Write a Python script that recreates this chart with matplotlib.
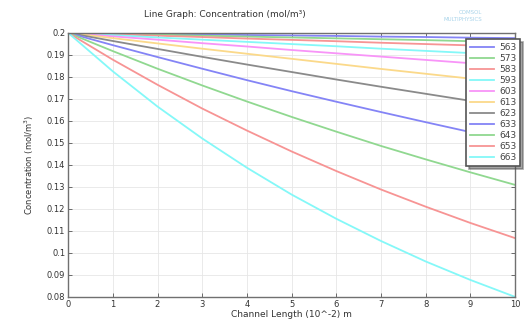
import matplotlib
matplotlib.use("Agg")
import matplotlib.pyplot as plt

# channel length (10^-2 m)
x = [0, 1, 2, 3, 4, 5, 6, 7, 8, 9, 10]

labels = ["563", "573", "583", "593", "603", "613", "623", "633", "643", "653", "663"]

c563 = [0.2, 0.1998, 0.1995, 0.1993, 0.1990, 0.1988, 0.1986, 0.1983, 0.1981, 0.1978, 0.1976]
c573 = [0.2, 0.1996, 0.1992, 0.1987, 0.1983, 0.1979, 0.1975, 0.1971, 0.1967, 0.1962, 0.1958]
c583 = [0.2, 0.1994, 0.1987, 0.1981, 0.1974, 0.1968, 0.1962, 0.1955, 0.1949, 0.1943, 0.1937]
c593 = [0.2, 0.1990, 0.1979, 0.1969, 0.1959, 0.1949, 0.1939, 0.1928, 0.1918, 0.1908, 0.1898]
c603 = [0.2, 0.1984, 0.1969, 0.1953, 0.1938, 0.1922, 0.1907, 0.1892, 0.1877, 0.1862, 0.1848]
c613 = [0.2, 0.1976, 0.1952, 0.1928, 0.1905, 0.1882, 0.1859, 0.1836, 0.1814, 0.1792, 0.1770]
c623 = [0.2, 0.1963, 0.1927, 0.1891, 0.1856, 0.1822, 0.1788, 0.1755, 0.1723, 0.1691, 0.1660]
c633 = [0.2, 0.1944, 0.1890, 0.1837, 0.1785, 0.1735, 0.1687, 0.1640, 0.1594, 0.1549, 0.1506]
c643 = [0.2, 0.1917, 0.1837, 0.1761, 0.1688, 0.1618, 0.1551, 0.1486, 0.1425, 0.1366, 0.1309]
c653 = [0.2, 0.1878, 0.1764, 0.1656, 0.1556, 0.1461, 0.1372, 0.1288, 0.1210, 0.1136, 0.1067]
c663 = [0.2, 0.1825, 0.1665, 0.1520, 0.1387, 0.1265, 0.1155, 0.1054, 0.0961, 0.0877, 0.0800]

series = [c563, c573, c583, c593, c603, c613, c623, c633, c643, c653, c663]

# comsol-like colour cycle, washed out
cycle = ["#8484f6", "#90d890", "#f79494", "#84f8f8", "#f894f8", "#fbd98a", "#8a8a8a"]

fig = plt.figure(figsize=(5.24, 3.22), dpi=100)
ax = fig.add_axes([0.130, 0.078, 0.853, 0.820])

for i, (lab, vals) in enumerate(zip(labels, series)):
    ax.plot(x, vals, color=cycle[i % len(cycle)], lw=1.3, label=lab)

ax.set_xlim(0, 10)
ax.set_ylim(0.08, 0.2)
ax.set_xticks(range(0, 11))
yt = [0.08, 0.09, 0.1, 0.11, 0.12, 0.13, 0.14, 0.15, 0.16, 0.17, 0.18, 0.19, 0.2]
ax.set_yticks(yt)
ax.set_yticklabels([f"{v:g}" for v in yt])
ax.tick_params(direction="in", top=True, right=True, labelsize=6,
               length=3, width=0.6, colors="#555555", labelcolor="#333333", pad=2)
ax.grid(True, color="#e6e6e6", lw=0.6)
for s in ax.spines.values():
    s.set_color("#707070")
    s.set_linewidth(1.0)

ax.set_xlabel("Channel Length (10^-2) m", fontsize=6.5, color="#333333", labelpad=1)
ax.set_ylabel("Concentration (mol/m$^3$)", fontsize=6, color="#333333", labelpad=8)

fig.text(0.43, 0.955, "Line Graph: Concentration (mol/m³)", fontsize=6.5,
         color="#333333", ha="center", va="center")
fig.text(0.92, 0.962, "COMSOL", fontsize=4, color="#a9d4ea", ha="right", va="center")
fig.text(0.92, 0.940, "MULTIPHYSICS", fontsize=4, color="#a9d4ea", ha="right", va="center")

leg = ax.legend(loc="upper right", bbox_to_anchor=(0.993, 0.878),
                bbox_transform=fig.transFigure, fontsize=6.5,
                frameon=True, fancybox=False, shadow=True, framealpha=1,
                edgecolor="#555555", handlelength=2.6, labelspacing=0.22,
                borderpad=0.45, handletextpad=0.6, borderaxespad=0)
leg.get_frame().set_linewidth(1.2)
for t in leg.get_texts():
    t.set_color("#444444")

fig.savefig("out.png", dpi=100)
